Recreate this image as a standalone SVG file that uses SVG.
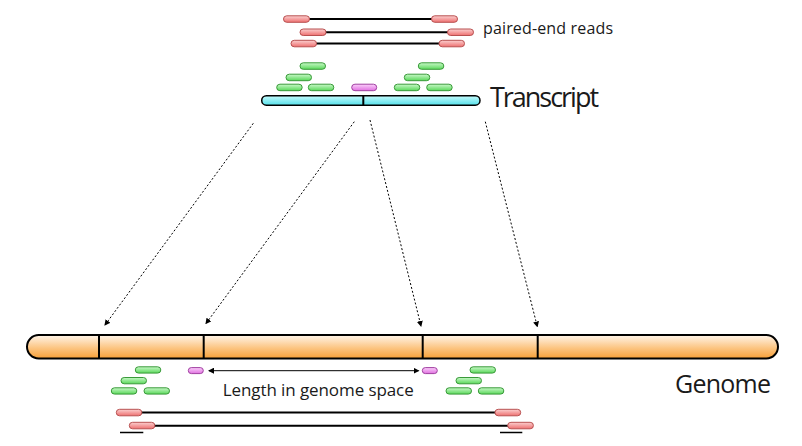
<svg xmlns="http://www.w3.org/2000/svg" width="802" height="446" viewBox="0 0 802 446">
<defs>
<linearGradient id="gRed" x1="0" y1="0" x2="0" y2="1"><stop offset="0" stop-color="#fbd0d0"/><stop offset="1" stop-color="#ee7070"/></linearGradient>
<linearGradient id="gGreen" x1="0" y1="0" x2="0" y2="1"><stop offset="0" stop-color="#c8f8c8"/><stop offset="1" stop-color="#5ad85a"/></linearGradient>
<linearGradient id="gMag" x1="0" y1="0" x2="0" y2="1"><stop offset="0" stop-color="#fbd0fb"/><stop offset="1" stop-color="#e070e0"/></linearGradient>
<linearGradient id="gCyan" x1="0" y1="0" x2="0" y2="1"><stop offset="0" stop-color="#c8fbfc"/><stop offset="1" stop-color="#55e0ea"/></linearGradient>
<linearGradient id="gOrange" x1="0" y1="0" x2="0" y2="1"><stop offset="0" stop-color="#fff5ea"/><stop offset="0.55" stop-color="#fcc582"/><stop offset="1" stop-color="#f8a038"/></linearGradient>
<marker id="ah" markerWidth="6" markerHeight="6" refX="5" refY="3" orient="auto" markerUnits="userSpaceOnUse"><path d="M0,0 L6,3 L0,6 z" fill="#000"/></marker>
<marker id="ahs" markerWidth="6" markerHeight="6" refX="1" refY="3" orient="auto" markerUnits="userSpaceOnUse"><path d="M6,0 L0,3 L6,6 z" fill="#000"/></marker>
</defs>
<style>
.red{fill:url(#gRed);stroke:#b85050;stroke-width:1}
.grn{fill:url(#gGreen);stroke:#3a9a3a;stroke-width:1}
.mag{fill:url(#gMag);stroke:#a040a0;stroke-width:1}
.link{stroke:#000;stroke-width:2}
.div{stroke:#000;stroke-width:2}
.conn{fill:none;stroke:#000;stroke-width:1;stroke-dasharray:2 2}
.lbl{font-family:"Open Sans","Liberation Sans",sans-serif;fill:#1a1a1a}
</style>
<rect width="802" height="446" fill="#fff"/>

<g id="connectors">
<line class="conn" x1="253.3" y1="123.3" x2="105" y2="325" marker-end="url(#ah)"/>
<line class="conn" x1="354.3" y1="121.7" x2="206" y2="323.5" marker-end="url(#ah)"/>
<line class="conn" x1="370" y1="120" x2="421" y2="326" marker-end="url(#ah)"/>
<line class="conn" x1="485.3" y1="121.7" x2="537.3" y2="326.5" marker-end="url(#ah)"/>
<line x1="209" y1="370.7" x2="418.5" y2="370.7" stroke="#000" stroke-width="1" marker-start="url(#ahs)" marker-end="url(#ah)"/>
</g>

<g id="paired-reads-top">
<line class="link" x1="309" y1="19" x2="432" y2="19"/>
<rect class="red" x="283.5" y="15.8" width="26" height="6.5" rx="3.25"/>
<rect class="red" x="431.5" y="15.8" width="26" height="6.5" rx="3.25"/>
<line class="link" x1="325" y1="32.2" x2="448" y2="32.2"/>
<rect class="red" x="300" y="29" width="26" height="6.5" rx="3.25"/>
<rect class="red" x="447.5" y="29" width="26" height="6.5" rx="3.25"/>
<line class="link" x1="316" y1="43.5" x2="440" y2="43.5"/>
<rect class="red" x="291" y="40.3" width="25.5" height="6.5" rx="3.25"/>
<rect class="red" x="439" y="40.3" width="25.5" height="6.5" rx="3.25"/>
<text class="lbl" x="483" y="33.5" font-size="16" textLength="130">paired-end reads</text>
</g>

<g id="reads-top">
<rect class="grn" x="300" y="62.8" width="25.5" height="6.5" rx="3.25"/>
<rect class="grn" x="418.3" y="62.8" width="25.5" height="6.5" rx="3.25"/>
<rect class="grn" x="286" y="74.2" width="25.5" height="6.5" rx="3.25"/>
<rect class="grn" x="404.3" y="74.2" width="25.5" height="6.5" rx="3.25"/>
<rect class="grn" x="276.7" y="84.2" width="25.5" height="6.5" rx="3.25"/>
<rect class="grn" x="308.3" y="84.2" width="25.5" height="6.5" rx="3.25"/>
<rect class="mag" x="351.7" y="84.2" width="25" height="6.5" rx="3.25"/>
<rect class="grn" x="394.3" y="84.2" width="25.5" height="6.5" rx="3.25"/>
<rect class="grn" x="426.7" y="84.2" width="25.5" height="6.5" rx="3.25"/>
</g>

<g id="transcript">
<rect x="261.7" y="95.7" width="218.3" height="9.5" rx="4.75" fill="url(#gCyan)" stroke="#000" stroke-width="1.5"/>
<line class="div" x1="363.3" y1="95.7" x2="363.3" y2="105.2" stroke-width="1.5"/>
<text class="lbl" x="490" y="106.7" font-size="27" textLength="109">Transcript</text>
</g>

<g id="genome">
<rect x="27" y="335" width="751" height="23.5" rx="11.75" fill="url(#gOrange)" stroke="#000" stroke-width="2"/>
<line class="div" x1="99" y1="335" x2="99" y2="358.5"/>
<line class="div" x1="203.7" y1="335" x2="203.7" y2="358.5"/>
<line class="div" x1="422.7" y1="335" x2="422.7" y2="358.5"/>
<line class="div" x1="537.7" y1="335" x2="537.7" y2="358.5"/>
<text class="lbl" x="675" y="393.3" font-size="25" textLength="96">Genome</text>
</g>

<g id="reads-genome">
<rect class="grn" x="135.3" y="366.8" width="25.5" height="6.3" rx="3.15"/>
<rect class="grn" x="470" y="366.8" width="25.5" height="6.3" rx="3.15"/>
<rect class="grn" x="121" y="377.5" width="25.5" height="6.3" rx="3.15"/>
<rect class="grn" x="456" y="377.5" width="25.5" height="6.3" rx="3.15"/>
<rect class="grn" x="111.3" y="387.8" width="25.5" height="6.3" rx="3.15"/>
<rect class="grn" x="144" y="387.8" width="25.5" height="6.3" rx="3.15"/>
<rect class="grn" x="446" y="387.8" width="25.5" height="6.3" rx="3.15"/>
<rect class="grn" x="478.3" y="387.8" width="25.5" height="6.3" rx="3.15"/>
<rect class="mag" x="188.3" y="367.6" width="15" height="6" rx="3"/>
<rect class="mag" x="422.3" y="367.6" width="15" height="6" rx="3"/>
<text class="lbl" x="222.7" y="396" font-size="17" textLength="191">Length in genome space</text>
</g>

<g id="paired-reads-genome">
<line class="link" x1="141" y1="412.6" x2="496" y2="412.6"/>
<rect class="red" x="116.3" y="409.3" width="25.5" height="6.5" rx="3.25"/>
<rect class="red" x="495" y="409.3" width="25.7" height="6.5" rx="3.25"/>
<line class="link" x1="154" y1="425.7" x2="508" y2="425.7"/>
<rect class="red" x="129.3" y="422.3" width="25.5" height="6.5" rx="3.25"/>
<rect class="red" x="507.7" y="422.3" width="25.7" height="6.5" rx="3.25"/>
<line x1="120" y1="432.5" x2="143.3" y2="432.5" stroke="#000" stroke-width="1.5"/>
<line x1="500" y1="432.5" x2="522.3" y2="432.5" stroke="#000" stroke-width="1.5"/>
</g>
</svg>
